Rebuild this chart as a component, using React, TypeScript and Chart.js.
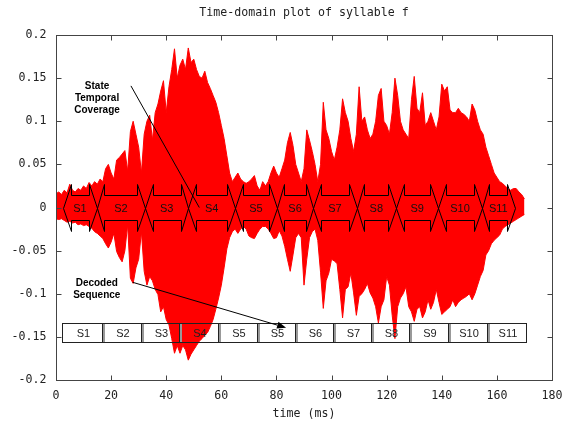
import React, { useEffect, useRef } from "react";
import { Chart, registerables } from "chart.js";
Chart.register(...registerables);

// sample times (ms), 1 ms bins
const timeMs = [
  0, 1, 2, 3, 4, 5, 6, 7, 8, 9, 10, 11, 12, 13, 14, 15, 16, 17, 18, 19,
  20, 21, 22, 23, 24, 25, 26, 27, 28, 29, 30, 31, 32, 33, 34, 35, 36, 37, 38, 39,
  40, 41, 42, 43, 44, 45, 46, 47, 48, 49, 50, 51, 52, 53, 54, 55, 56, 57, 58, 59,
  60, 61, 62, 63, 64, 65, 66, 67, 68, 69, 70, 71, 72, 73, 74, 75, 76, 77, 78, 79,
  80, 81, 82, 83, 84, 85, 86, 87, 88, 89, 90, 91, 92, 93, 94, 95, 96, 97, 98, 99,
  100, 101, 102, 103, 104, 105, 106, 107, 108, 109, 110, 111, 112, 113, 114, 115, 116, 117, 118, 119,
  120, 121, 122, 123, 124, 125, 126, 127, 128, 129, 130, 131, 132, 133, 134, 135, 136, 137, 138, 139,
  140, 141, 142, 143, 144, 145, 146, 147, 148, 149, 150, 151, 152, 153, 154, 155, 156, 157, 158, 159,
  160, 161, 162, 163, 164, 165, 166, 167, 168, 169, 170,
];

// upper envelope of the waveform per bin
const upperEnv = [
  0.016, 0.018, 0.015, 0.02, 0.017, 0.027, 0.02, 0.018, 0.022, 0.02,
  0.025, 0.022, 0.029, 0.025, 0.03, 0.027, 0.033, 0.03, 0.045, 0.05,
  0.04, 0.033, 0.055, 0.058, 0.062, 0.066, 0.042, 0.088, 0.1, 0.085,
  0.07, 0.04, 0.085, 0.1, 0.107, 0.078, 0.11, 0.12, 0.135, 0.147,
  0.11, 0.14, 0.16, 0.184, 0.15, 0.165, 0.172, 0.16, 0.185, 0.168,
  0.172, 0.16, 0.152, 0.15, 0.158, 0.145, 0.138, 0.13, 0.122, 0.11,
  0.095, 0.08, 0.06, 0.04, 0.03, 0.035, 0.04, 0.033, 0.03, 0.028,
  0.03, 0.033, 0.037, 0.025, 0.02, 0.03, 0.025, 0.03, 0.04, 0.048,
  0.04, 0.035, 0.045, 0.055, 0.075, 0.087, 0.072, 0.05, 0.04, 0.03,
  0.045, 0.09, 0.078, 0.065, 0.05, 0.03, 0.05, 0.122, 0.09, 0.08,
  0.065, 0.055, 0.07, 0.09, 0.126, 0.11, 0.1, 0.08, 0.065, 0.085,
  0.14, 0.1, 0.105, 0.09, 0.08, 0.085, 0.1, 0.13, 0.138, 0.1,
  0.095, 0.085, 0.11, 0.15, 0.13, 0.1, 0.09, 0.085, 0.08, 0.125,
  0.152, 0.115, 0.11, 0.133, 0.095, 0.1, 0.11, 0.1, 0.09, 0.105,
  0.143, 0.135, 0.14, 0.113, 0.11, 0.11, 0.115, 0.11, 0.108, 0.105,
  0.1, 0.12, 0.113, 0.1, 0.09, 0.085, 0.07, 0.06, 0.05, 0.04,
  0.035, 0.03, 0.028, 0.025, 0.022, 0.02, 0.022, 0.022, 0.018, 0.015,
  0.01,
];

// lower envelope of the waveform per bin
const lowerEnv = [
  -0.013, -0.014, -0.013, -0.015, -0.017, -0.016, -0.018, -0.017, -0.02, -0.019,
  -0.021, -0.02, -0.022, -0.024, -0.028, -0.03, -0.033, -0.036, -0.042, -0.047,
  -0.04, -0.03, -0.051, -0.058, -0.063, -0.05, -0.02, -0.082, -0.088, -0.07,
  -0.06, -0.028, -0.074, -0.09, -0.08, -0.085, -0.095, -0.101, -0.121, -0.115,
  -0.13, -0.136, -0.152, -0.169, -0.16, -0.169, -0.16, -0.165, -0.177, -0.17,
  -0.165, -0.16, -0.155, -0.152, -0.148, -0.145, -0.138, -0.13, -0.118, -0.105,
  -0.09, -0.07, -0.048, -0.035, -0.028, -0.025, -0.03, -0.025, -0.022, -0.025,
  -0.033, -0.035, -0.036, -0.03, -0.025, -0.022, -0.022, -0.025, -0.03, -0.036,
  -0.035, -0.027, -0.033, -0.045, -0.06, -0.074, -0.055, -0.035, -0.03, -0.035,
  -0.09, -0.06, -0.035, -0.028, -0.025, -0.038, -0.075, -0.117, -0.085, -0.076,
  -0.06, -0.062, -0.065, -0.095, -0.128, -0.095, -0.092, -0.076, -0.099, -0.125,
  -0.103, -0.1, -0.095, -0.088, -0.099, -0.105, -0.115, -0.134, -0.115, -0.107,
  -0.08, -0.09, -0.125, -0.152, -0.115, -0.105, -0.1, -0.092, -0.115, -0.121,
  -0.132, -0.118, -0.115, -0.128, -0.121, -0.107, -0.118, -0.11, -0.095, -0.11,
  -0.124, -0.121, -0.118, -0.115, -0.107, -0.115, -0.11, -0.107, -0.105, -0.103,
  -0.1, -0.107, -0.1, -0.09, -0.08, -0.073, -0.055, -0.05, -0.042, -0.038,
  -0.035, -0.032, -0.025, -0.022, -0.02, -0.018, -0.016, -0.014, -0.012, -0.01,
  -0.008,
];

const xTickValues = [0, 20, 40, 60, 80, 100, 120, 140, 160, 180];
const xTickLabels = ["0", "20", "40", "60", "80", "100", "120", "140", "160", "180"];
const yTickValues = [-0.2, -0.15, -0.1, -0.05, 0, 0.05, 0.1, 0.15, 0.2];
const yTickLabels = ["-0.2", "-0.15", "-0.1", "-0.05", "0", "0.05", "0.1", "0.15", "0.2"];

// state temporal coverage: tips between states (ms)
const stateLabels = ["S1", "S2", "S3", "S4", "S5", "S6", "S7", "S8", "S9", "S10", "S11"];
const stateBounds = [2.6, 14.8, 32.3, 48.0, 65.0, 80.1, 93.4, 109.1, 123.4, 138.7, 154.5, 166.5];

// decoded sequence boxes: edges (ms)
const decodedLabels = ["S1", "S2", "S3", "S4", "S5", "S5", "S6", "S7", "S8", "S9", "S10", "S11"];
const decodedEdges = [2.3, 16.6, 30.7, 44.7, 58.9, 72.8, 86.7, 100.4, 114.3, 128.2, 142.4, 156.5, 170.5];

const titleText = "Time-domain plot of syllable f";
const xAxisTitle = "time (ms)";

const MONO = '11.6px "DejaVu Sans Mono", monospace';
const SANS = '11px "Liberation Sans", Arial, sans-serif';
const BOLD = 'bold 10px "Liberation Sans", Arial, sans-serif';

const overlayPlugin = {
  id: "overlay",
  afterDatasetsDraw(chart: any) {
    const { ctx, chartArea: a, scales } = chart;
    const xs = scales.x;
    const ys = scales.y;
    const X = (v: number) => xs.getPixelForValue(v);
    const Y = (v: number) => ys.getPixelForValue(v);
    ctx.save();

    // state coverage double-arrows
    const head = 2.8;
    const shaft = 0.014;
    const spike = 0.027;
    ctx.strokeStyle = "#000";
    ctx.lineWidth = 1;
    for (let i = 0; i < stateLabels.length; i++) {
      const b0 = stateBounds[i];
      const b1 = stateBounds[i + 1];
      const pts: [number, number][] = [
        [b0, 0], [b0 + head, spike], [b0 + head, shaft], [b1 - head, shaft], [b1 - head, spike],
        [b1, 0], [b1 - head, -spike], [b1 - head, -shaft], [b0 + head, -shaft], [b0 + head, -spike],
      ];
      ctx.beginPath();
      pts.forEach(([t, v], k) => {
        const px = Math.round(X(t)) + 0.5;
        const py = Math.round(Y(v)) + 0.5;
        if (k === 0) ctx.moveTo(px, py);
        else ctx.lineTo(px, py);
      });
      ctx.closePath();
      ctx.stroke();
    }
    ctx.fillStyle = "#111";
    ctx.font = SANS;
    ctx.textAlign = "center";
    ctx.textBaseline = "middle";
    for (let i = 0; i < stateLabels.length; i++) {
      const c = (stateBounds[i] + stateBounds[i + 1]) / 2;
      ctx.fillText(stateLabels[i], X(c), Y(0) + 1);
    }

    // decoded sequence boxes
    const boxTop = -0.134;
    const boxBot = -0.156;
    for (let i = 0; i < decodedLabels.length; i++) {
      const l = Math.round(X(decodedEdges[i])) + 0.5;
      const r = Math.round(X(decodedEdges[i + 1])) + 0.5;
      const t = Math.round(Y(boxTop)) + 0.5;
      const b = Math.round(Y(boxBot)) + 0.5;
      if (i > 0) {
        ctx.strokeStyle = "#999";
        ctx.lineWidth = 2;
        ctx.beginPath();
        ctx.moveTo(l + 1.5, t);
        ctx.lineTo(l + 1.5, b);
        ctx.stroke();
      }
      ctx.strokeStyle = "#222";
      ctx.lineWidth = 1;
      ctx.strokeRect(l, t, r - l, b - t);
      ctx.fillStyle = "#222";
      ctx.fillText(decodedLabels[i], (l + r) / 2 + 1, (t + b) / 2 + 1);
    }

    // annotation texts
    ctx.fillStyle = "#000";
    ctx.font = BOLD;
    ctx.fillText("State", X(14.9), Y(0.141));
    ctx.fillText("Temporal", X(14.9), Y(0.127));
    ctx.fillText("Coverage", X(14.9), Y(0.113));
    ctx.fillText("Decoded", X(14.8), Y(-0.088));
    ctx.fillText("Sequence", X(14.8), Y(-0.1015));

    // pointer lines
    ctx.strokeStyle = "#000";
    ctx.lineWidth = 1;
    ctx.beginPath();
    ctx.moveTo(X(27.2), Y(0.141));
    ctx.lineTo(X(52), Y(0.0));
    ctx.stroke();

    const sx = X(27.8), sy = Y(-0.0867);
    const ex = X(83.5), ey = Y(-0.1394);
    const ang = Math.atan2(ey - sy, ex - sx);
    const hl = 9, hw = 3.5;
    const bx = ex - hl * Math.cos(ang), by = ey - hl * Math.sin(ang);
    ctx.beginPath();
    ctx.moveTo(sx, sy);
    ctx.lineTo(bx, by);
    ctx.stroke();
    ctx.beginPath();
    ctx.moveTo(ex, ey);
    ctx.lineTo(bx + hw * Math.sin(ang), by - hw * Math.cos(ang));
    ctx.lineTo(bx - hw * Math.sin(ang), by + hw * Math.cos(ang));
    ctx.closePath();
    ctx.fill();

    // frame
    const L = Math.round(a.left) + 0.5;
    const R = Math.round(a.right) + 0.5;
    const T = Math.round(a.top) + 0.5;
    const B = Math.round(a.bottom) + 0.5;
    ctx.strokeStyle = "#444";
    ctx.lineWidth = 1;
    ctx.strokeRect(L, T, R - L, B - T);
    const tl = 5;
    ctx.beginPath();
    xTickValues.forEach((v) => {
      const px = Math.round(X(v)) + 0.5;
      ctx.moveTo(px, B);
      ctx.lineTo(px, B - tl);
      ctx.moveTo(px, T);
      ctx.lineTo(px, T + tl);
    });
    yTickValues.forEach((v) => {
      const py = Math.round(Y(v)) + 0.5;
      ctx.moveTo(L, py);
      ctx.lineTo(L + tl, py);
      ctx.moveTo(R, py);
      ctx.lineTo(R - tl, py);
    });
    ctx.stroke();

    // tick labels
    ctx.fillStyle = "#222";
    ctx.font = MONO;
    ctx.textAlign = "center";
    ctx.textBaseline = "middle";
    xTickValues.forEach((v, i) => {
      ctx.fillText(xTickLabels[i], X(v), B + 15);
    });
    ctx.textAlign = "right";
    yTickValues.forEach((v, i) => {
      ctx.fillText(yTickLabels[i], L - 10, Y(v));
    });

    // titles
    ctx.textAlign = "center";
    ctx.fillText(titleText, (a.left + a.right) / 2, 13);
    ctx.fillText(xAxisTitle, (a.left + a.right) / 2, B + 33);
    ctx.restore();
  },
};

export default function App() {
  const ref = useRef<HTMLCanvasElement | null>(null);
  useEffect(() => {
    if (!ref.current) return;
    const upperPts = timeMs.map((t, i) => ({ x: t, y: upperEnv[i] }));
    const lowerPts = timeMs.map((t, i) => ({ x: t, y: lowerEnv[i] }));
    const chart = new Chart(ref.current, {
      type: "line",
      data: {
        datasets: [
          {
            label: "upper",
            data: upperPts,
            borderColor: "#ff0000",
            backgroundColor: "#ff0000",
            borderWidth: 1,
            pointRadius: 0,
            fill: "+1",
            tension: 0,
          },
          {
            label: "lower",
            data: lowerPts,
            borderColor: "#ff0000",
            backgroundColor: "#ff0000",
            borderWidth: 1,
            pointRadius: 0,
            fill: false,
            tension: 0,
          },
        ],
      },
      options: {
        animation: false,
        responsive: false,
        devicePixelRatio: 1,
        layout: { padding: { left: 56, right: 12, top: 35, bottom: 44 } },
        plugins: { legend: { display: false }, tooltip: { enabled: false }, title: { display: false } },
        scales: {
          x: { type: "linear", min: 0, max: 180, display: false },
          y: { type: "linear", min: -0.2, max: 0.2, display: false },
        },
      },
      plugins: [overlayPlugin],
    });
    return () => chart.destroy();
  }, []);
  return (
    <div style={{ position: "absolute", left: 0, top: 0, width: 564, height: 424, background: "#fff" }}>
      <canvas ref={ref} width={564} height={424} style={{ display: "block" }} />
    </div>
  );
}
